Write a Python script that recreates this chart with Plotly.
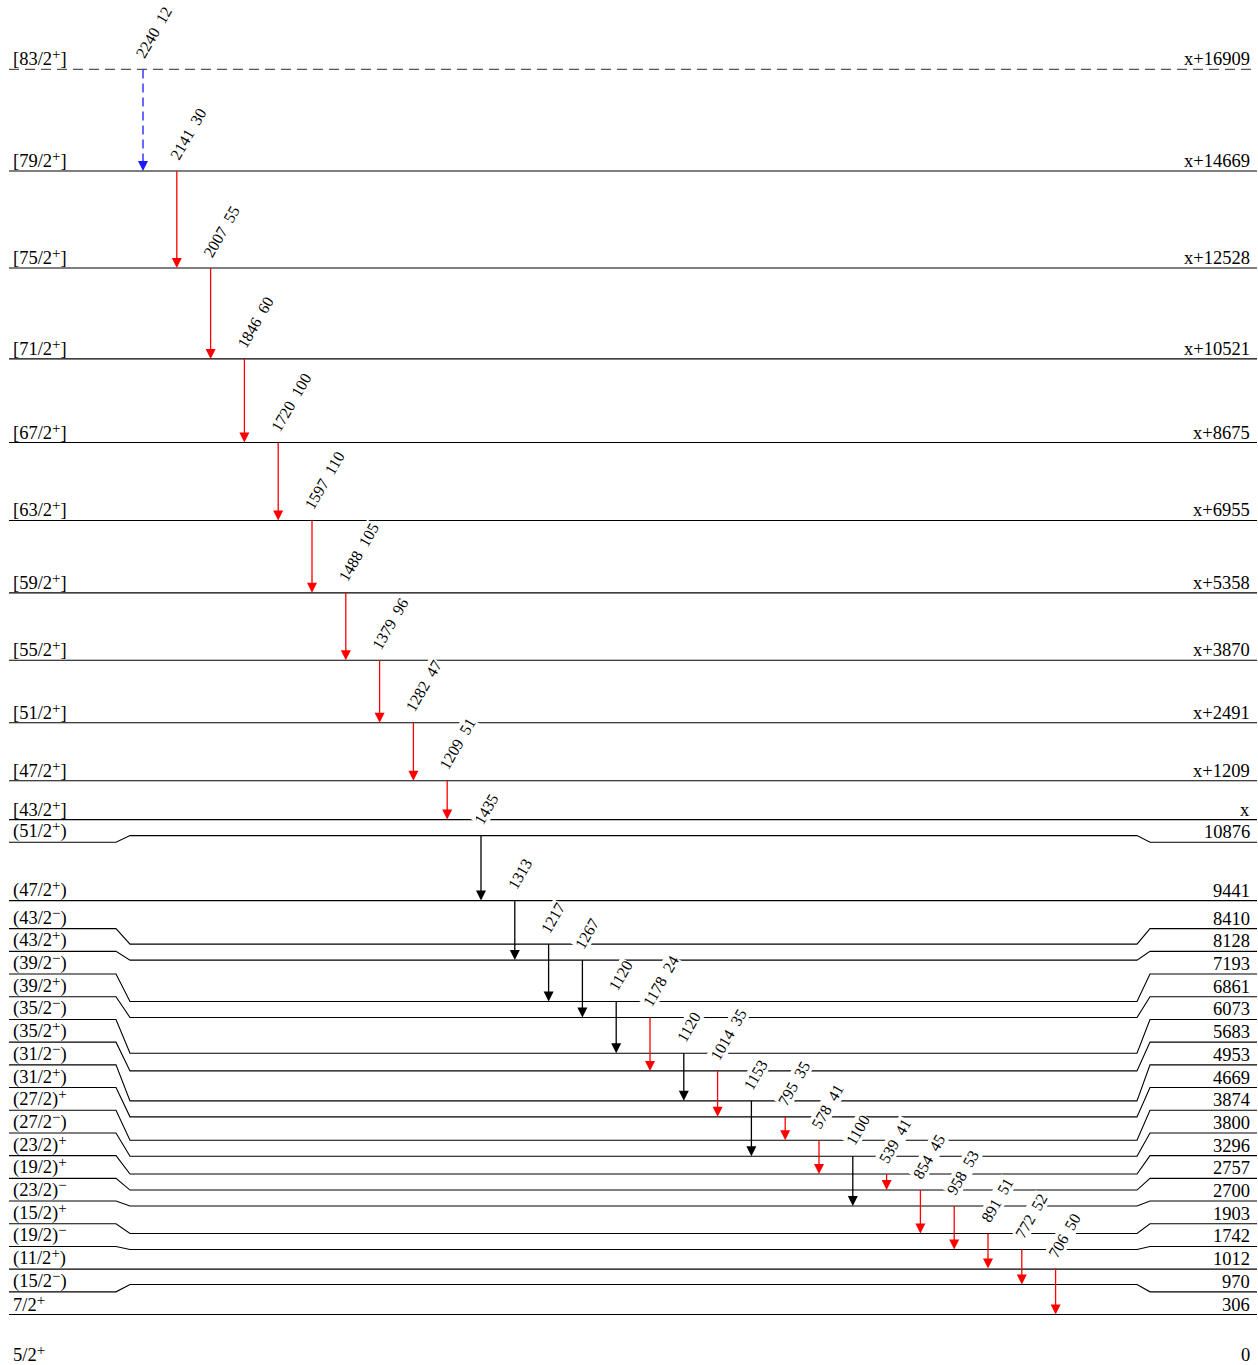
import plotly.graph_objects as go

# ---------------- data ----------------
# lower part: absolute excitation energies (keV) and spin labels
LOW_E = [0, 306, 970, 1012, 1742, 1903, 2700, 2757, 3296, 3800, 3874,
         4669, 4953, 5683, 6073, 6861, 7193, 8128, 8410, 9441, 10876]
LOW_SPIN = ["5/2^+", "7/2^+", "(15/2^−)", "(11/2^+)", "(19/2)^−", "(15/2)^+", "(23/2)^−",
            "(19/2)^+", "(23/2)^+", "(27/2^−)", "(27/2)^+", "(31/2^+)", "(31/2^−)",
            "(35/2^+)", "(35/2^−)", "(39/2^+)", "(39/2^−)", "(43/2^+)", "(43/2^−)",
            "(47/2^+)", "(51/2^+)"]

# upper band: energies relative to unknown x (keV)
UP_E = [0, 1209, 2491, 3870, 5358, 6955, 8675, 10521, 12528, 14669, 16909]
UP_SPIN = ["[43/2^+]", "[47/2^+]", "[51/2^+]", "[55/2^+]", "[59/2^+]", "[63/2^+]",
           "[67/2^+]", "[71/2^+]", "[75/2^+]", "[79/2^+]", "[83/2^+]"]
UP_TENTATIVE = [False, False, False, False, False, False, False, False, False, False, True]
X_DRAW_KEV = 10876   # height at which the unknown x is drawn

# transitions, left to right
TR_FROM = ["x+16909", "x+14669", "x+12528", "x+10521", "x+8675", "x+6955", "x+5358",
           "x+3870", "x+2491", "x+1209",
           "10876", "9441", "8410", "8128", "7193", "6861", "6073", "5683", "4953",
           "4669", "3874", "3800", "3296", "2757", "2700", "1903", "1742", "1012"]
TR_TO = ["x+14669", "x+12528", "x+10521", "x+8675", "x+6955", "x+5358", "x+3870",
         "x+2491", "x+1209", "x",
         "9441", "8128", "7193", "6861", "6073", "5683", "4953", "4669", "3800",
         "3874", "3296", "2700", "2757", "1903", "1742", "1012", "970", "306"]
TR_E = [2240, 2141, 2007, 1846, 1720, 1597, 1488, 1379, 1282, 1209,
        1435, 1313, 1217, 1267, 1120, 1178, 1120, 1014, 1153,
        795, 578, 1100, 539, 854, 958, 891, 772, 706]
TR_I = [12, 30, 55, 60, 100, 110, 105, 96, 47, 51,
        None, None, None, None, None, 24, None, 35, None,
        35, 41, None, 41, 45, 53, 51, 52, 50]
TR_KIND = ["tentative"] + ["band"] * 9 + \
          ["other", "other", "other", "other", "other", "band", "other", "band", "other",
           "band", "band", "other", "band", "band", "band", "band", "band", "band"]

# ---------------- layout / style constants ----------------
W, H = 1258, 1365
S = 22.07            # keV per pixel
Y0_PX = 1328.4       # pixel row of 0 keV on the linear scale
MIN_GAP_PX = 16      # minimum level spacing
LABEL_GAP_PX = 22.7  # minimum label spacing
GROUND_GAP_PX = 50
X_LEFT, X_RIGHT = 9, 1257
KINK_L = (116, 130)
KINK_R = (1137, 1150)
SLOT0, SLOT_DX = 143, 33.8
FONT = "Liberation Serif, Times New Roman, serif"
KIND_COLOR = {"tentative": "#1a1aff", "band": "#ff0000", "other": "#000000"}


def spin_html(s):
    # "a^+rest" -> raised sign
    if "^" not in s:
        return s
    head, tail = s.split("^", 1)
    return (head + '<span style="font-size:15px;baseline-shift:38%">' + tail[0] +
            "</span>" + tail[1:])


# ---------------- build levels ----------------
levels = {}
for e, sp in zip(LOW_E, LOW_SPIN):
    levels[str(e)] = dict(lin=float(e), spin=sp, right=str(e), band=0, dashed=False)
for e, sp, t in zip(UP_E, UP_SPIN, UP_TENTATIVE):
    key = "x" if e == 0 else "x+%d" % e
    levels[key] = dict(lin=float(X_DRAW_KEV + e), spin=sp, right=key, band=1, dashed=t)

# spread levels with a minimum spacing (ground state handled separately)
main = sorted([k for k in levels if k != "0"], key=lambda k: (levels[k]["lin"], levels[k]["band"]))
prev = None
for k in main:
    d = levels[k]["lin"]
    if prev is not None:
        d = max(d, prev + MIN_GAP_PX * S)
    levels[k]["D"] = d
    prev = d
levels["0"]["D"] = levels["306"]["D"] - GROUND_GAP_PX * S

# label positions: upper band fixed; lower band spread between neighbours
for k in levels:
    levels[k]["L"] = levels[k]["D"]
lower = sorted([k for k in levels if levels[k]["band"] == 0 and k != "0"],
               key=lambda k: -levels[k]["D"])
upper_lowest = min([k for k in levels if levels[k]["band"] == 1], key=lambda k: levels[k]["D"])
prev = levels[upper_lowest]["L"]
for k in lower:
    levels[k]["L"] = min(levels[k]["D"], prev - LABEL_GAP_PX * S)
    prev = levels[k]["L"]
bottom = lower[-1]
levels[bottom]["L"] = max(levels[bottom]["L"], levels[bottom]["D"])
for i in range(len(lower) - 2, -1, -1):
    k = lower[i]
    levels[k]["L"] = max(levels[k]["L"], levels[lower[i + 1]]["L"] + LABEL_GAP_PX * S)

fig = go.Figure()
annotations = []
shapes = []

for k, lv in levels.items():
    c, L = lv["D"], lv["L"]
    if k != "0":
        if abs(c - L) > 1e-6:
            xs = [X_LEFT, KINK_L[0], KINK_L[1], KINK_R[0], KINK_R[1], X_RIGHT]
            ys = [L, L, c, c, L, L]
        else:
            xs = [X_LEFT, X_RIGHT]
            ys = [c, c]
        if lv["dashed"]:
            line = dict(color="#555555", width=1.3, dash="10px,6px")
        else:
            line = dict(color="#000000", width=1.1)
        fig.add_trace(go.Scatter(x=xs, y=ys, mode="lines", line=line,
                                 hoverinfo="skip", showlegend=False))
    annotations.append(dict(x=X_LEFT + 2, y=L, xref="x", yref="y", text=spin_html(lv["spin"]),
                            showarrow=False, xanchor="left", yanchor="bottom", yshift=-2,
                            font=dict(family=FONT, size=18.5, color="black")))
    annotations.append(dict(x=1252, y=L, xref="x", yref="y", text=lv["right"],
                            showarrow=False, xanchor="right", yanchor="bottom", yshift=-2,
                            font=dict(family=FONT, size=18.5, color="black")))

for i, (f, t, e, inten, kind) in enumerate(zip(TR_FROM, TR_TO, TR_E, TR_I, TR_KIND)):
    x = SLOT0 + i * SLOT_DX
    y0 = levels[f]["D"]
    y1 = levels[t]["D"]
    col = KIND_COLOR[kind]
    fig.add_trace(go.Scatter(x=[x, x], y=[y0, y1 + 5 * S], mode="lines",
                             line=dict(color=col, width=1.3,
                                       dash="9px,5px" if kind == "tentative" else "solid"),
                             hoverinfo="skip", showlegend=False))
    shapes.append(dict(type="path", xref="x", yref="y", xsizemode="pixel", ysizemode="pixel",
                       xanchor=x, yanchor=y1, path="M0,0 L-5,10 L5,10 Z",
                       fillcolor=col, line=dict(width=0)))
    label = str(e) if inten is None else "%d&nbsp;&nbsp;%d" % (e, inten)
    annotations.append(dict(x=x, y=y0, xref="x", yref="y", text=label, showarrow=False,
                            textangle=-60, xanchor="left", yanchor="bottom",
                            xshift=-12, yshift=7, bgcolor="white", borderpad=0,
                            font=dict(family=FONT, size=16, color="black")))

fig.update_layout(
    width=W, height=H, margin=dict(l=0, r=0, t=0, b=0),
    paper_bgcolor="white", plot_bgcolor="white",
    xaxis=dict(range=[0, W], visible=False, fixedrange=True),
    yaxis=dict(range=[(Y0_PX - H) * S, Y0_PX * S], visible=False, fixedrange=True),
    annotations=annotations, shapes=shapes, showlegend=False,
)
fig.write_html("out.html", config={"displayModeBar": False},
               post_script="document.body.style.margin='0px';")
